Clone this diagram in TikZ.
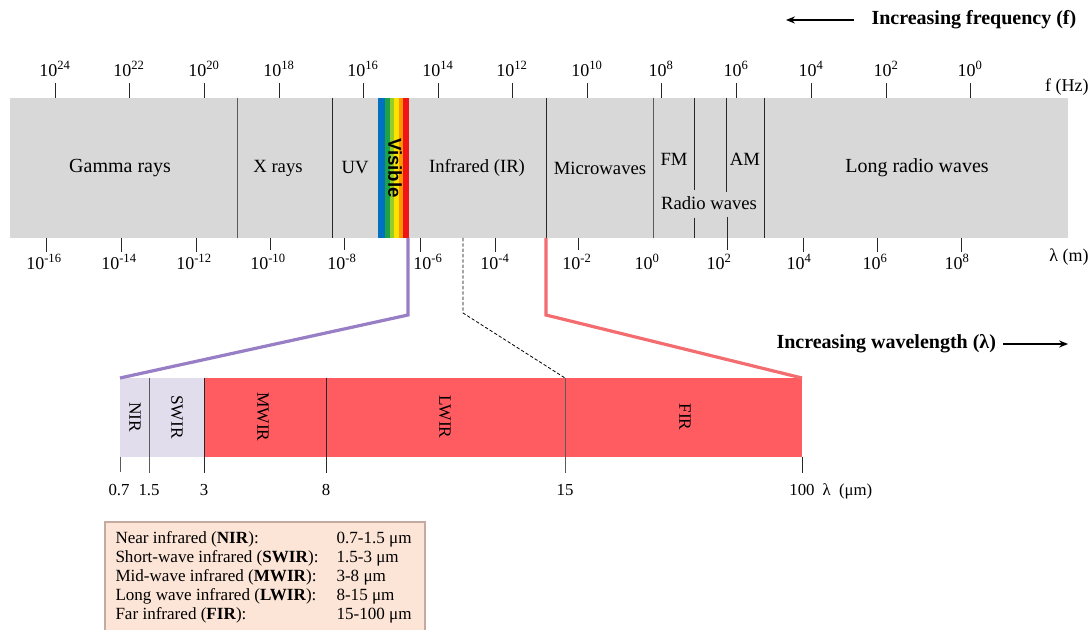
\documentclass[tikz,border=0pt]{standalone}
\usepackage{fontspec}
\setmainfont{Liberation Serif}
\newfontfamily\visfont{Liberation Sans}

\definecolor{bandgray}{RGB}{216,216,216}
\definecolor{irred}{RGB}{255,92,97}
\definecolor{nirlilac}{RGB}{226,221,236}
\definecolor{linkpurple}{RGB}{152,126,196}
\definecolor{linkred}{RGB}{242,108,112}
\definecolor{legendfill}{RGB}{252,229,214}
\definecolor{legendedge}{RGB}{196,170,160}
\definecolor{visblue}{RGB}{0,112,192}
\definecolor{visgreen}{RGB}{30,162,70}
\definecolor{vislime}{RGB}{150,205,40}
\definecolor{visyellow}{RGB}{252,226,0}
\definecolor{visorange}{RGB}{255,150,0}
\definecolor{visred}{RGB}{240,20,20}

\tikzset{every picture/.style={line width=0.75pt}}
\tikzset{
  bandlabel/.style={inner sep=0.75pt, font=\fontsize{14}{16}\selectfont},
  ticklabel/.style={inner sep=0.75pt, font=\fontsize{13.5}{16}\selectfont},
  sublabel/.style={inner sep=0.75pt, rotate=-90, font=\fontsize{13}{15}\selectfont},
  scalelabel/.style={inner sep=0.75pt, font=\fontsize{12.6}{15}\selectfont},
  legendtext/.style={inner sep=0.75pt, font=\fontsize{12.8}{15}\selectfont},
  headline/.style={inner sep=0.75pt, font=\fontsize{15}{18}\selectfont\bfseries},
  divider/.style={draw={rgb, 255:red, 40; green, 40; blue, 40 }, line width=0.75},
  zoomlink/.style={line width=2.4pt},
}

\begin{document}
\begin{tikzpicture}[x=0.75pt,y=0.75pt,yscale=-1,xscale=1]
		\useasboundingbox (0,0) rectangle (1092,630);
		
		%Shape: Rectangle [spectrum band]
		\fill [bandgray] (10,98) -- (1068,98) -- (1068,238) -- (10,238) -- cycle ;
		%Visible strip
		\fill [visblue] (378,98) rectangle (384.5,238) ;
		\fill [visgreen] (384.5,98) rectangle (390,238) ;
		\fill [vislime] (390,98) rectangle (394,238) ;
		\fill [visyellow] (394,98) rectangle (398.5,238) ;
		\fill [visorange] (398.5,98) rectangle (403,238) ;
		\fill [visred] (403,98) rectangle (409,238) ;
		
		%Dividers
		\draw [divider, draw={rgb, 255:red, 90; green, 90; blue, 90 }]   (237,98) -- (237,238) ;
		\draw [divider]   (332,98) -- (332,238) ;
		\draw [divider]   (546,98) -- (546,238) ;
		\draw [divider, draw={rgb, 255:red, 90; green, 90; blue, 90 }]   (653,98) -- (653,238) ;
		\draw [divider]   (694,98) -- (694,190) ;
		\draw [divider]   (694,218) -- (694,238) ;
		\draw [divider]   (726,98) -- (726,192) ;
		\draw [divider]   (727,217) -- (727,250) ;
		\draw [divider]   (764,98) -- (764,238) ;
		
		%Frequency ticks
		\draw [divider]   (55,83) -- (55,98) ;
		\draw [divider]   (129,83) -- (129,98) ;
		\draw [divider]   (204,83) -- (204,98) ;
		\draw [divider]   (279,83) -- (279,98) ;
		\draw [divider]   (363,83) -- (363,98) ;
		\draw [divider]   (438,83) -- (438,98) ;
		\draw [divider]   (512,83) -- (512,98) ;
		\draw [divider]   (587,83) -- (587,98) ;
		\draw [divider]   (661,83) -- (661,98) ;
		\draw [divider]   (736,83) -- (736,98) ;
		\draw [divider]   (811,83) -- (811,98) ;
		\draw [divider]   (886,83) -- (886,98) ;
		\draw [divider]   (970,83) -- (970,98) ;
		
		%Wavelength ticks
		\draw [divider]   (46,238) -- (46,252) ;
		\draw [divider]   (121,238) -- (121,252) ;
		\draw [divider]   (196,238) -- (196,252) ;
		\draw [divider]   (270,238) -- (270,250) ;
		\draw [divider]   (344,238) -- (344,250) ;
		\draw [divider]   (420,238) -- (420,252) ;
		\draw [divider]   (495,238) -- (495,252) ;
		\draw [divider]   (578,238) -- (578,250) ;
		\draw [divider]   (803,238) -- (803,252) ;
		\draw [divider]   (877,238) -- (877,252) ;
		\draw [divider]   (961,238) -- (961,252) ;
		
		%Frequency labels
		\draw (55,78) node [ticklabel, anchor=south] (f24) {10\textsuperscript{24}};
		\draw (129,78) node [ticklabel, anchor=south] (f22) {10\textsuperscript{22}};
		\draw (204,78) node [ticklabel, anchor=south] (f20) {10\textsuperscript{20}};
		\draw (279,78) node [ticklabel, anchor=south] (f18) {10\textsuperscript{18}};
		\draw (363,78) node [ticklabel, anchor=south] (f16) {10\textsuperscript{16}};
		\draw (438,78) node [ticklabel, anchor=south] (f14) {10\textsuperscript{14}};
		\draw (512,78) node [ticklabel, anchor=south] (f12) {10\textsuperscript{12}};
		\draw (587,78) node [ticklabel, anchor=south] (f10) {10\textsuperscript{10}};
		\draw (661,78) node [ticklabel, anchor=south] (f8) {10\textsuperscript{8}};
		\draw (736,78) node [ticklabel, anchor=south] (f6) {10\textsuperscript{6}};
		\draw (811,78) node [ticklabel, anchor=south] (f4) {10\textsuperscript{4}};
		\draw (886,78) node [ticklabel, anchor=south] (f2) {10\textsuperscript{2}};
		\draw (970,78) node [ticklabel, anchor=south] (f0) {10\textsuperscript{0}};
		\draw (1090,92) node [ticklabel, anchor=base east] (fhz) {f (Hz)};
		
		%Wavelength labels
		\draw (44,253) node [ticklabel, anchor=north] (w16) {10\textsuperscript{-16}};
		\draw (119,253) node [ticklabel, anchor=north] (w14) {10\textsuperscript{-14}};
		\draw (194,253) node [ticklabel, anchor=north] (w12) {10\textsuperscript{-12}};
		\draw (268,253) node [ticklabel, anchor=north] (w10) {10\textsuperscript{-10}};
		\draw (342,253) node [ticklabel, anchor=north] (w8) {10\textsuperscript{-8}};
		\draw (428,253) node [ticklabel, anchor=north] (w6) {10\textsuperscript{-6}};
		\draw (495,253) node [ticklabel, anchor=north] (w4) {10\textsuperscript{-4}};
		\draw (577,253) node [ticklabel, anchor=north] (w2) {10\textsuperscript{-2}};
		\draw (647,253) node [ticklabel, anchor=north] (w0) {10\textsuperscript{0}};
		\draw (719,253) node [ticklabel, anchor=north] (wp2) {10\textsuperscript{2}};
		\draw (799,253) node [ticklabel, anchor=north] (wp4) {10\textsuperscript{4}};
		\draw (875,253) node [ticklabel, anchor=north] (wp6) {10\textsuperscript{6}};
		\draw (957,253) node [ticklabel, anchor=north] (wp8) {10\textsuperscript{8}};
		\draw (1090,262) node [ticklabel, anchor=base east] (wm) {λ (m)};
		
		%Band names
		\draw (120,168) node [bandlabel, font=\fontsize{15}{17}\selectfont] (gamma) {Gamma rays};
		\draw (278,168) node [bandlabel] (xray) {X rays};
		\draw (355,168) node [bandlabel] (uv) {UV};
		\draw (395,168) node [bandlabel, rotate=-90, font=\fontsize{14}{16}\selectfont\visfont\bfseries] (visible) {Visible};
		\draw (477,168) node [bandlabel] (ir) {Infrared (IR)};
		\draw (600,168) node [bandlabel] (micro) {Microwaves};
		\draw (674,159) node [bandlabel] (fm) {FM};
		\draw (745,159) node [bandlabel] (am) {AM};
		\draw (709,203) node [bandlabel] (radio) {Radio waves};
		\draw (917,168) node [bandlabel, font=\fontsize{15}{17}\selectfont] (longradio) {Long radio waves};
		
		%Frequency / wavelength arrows
		\coordinate (ftail) at (854,20) ;
		\coordinate (fhead) at (786,20) ;
		\draw [line width=0.9]   (ftail) -- (789,20) ;
		\draw [shift={(fhead)}, rotate = 0] [fill={rgb, 255:red, 0; green, 0; blue, 0 }  ][line width=0.08]  [draw opacity=0] (9,-3.6) -- (0,0) -- (9,3.6) -- (6,0) -- cycle    ;
		\draw (870,20) node [headline, anchor=west] (freqtitle) {Increasing frequency (f)};
		\coordinate (wtail) at (1003,344) ;
		\coordinate (whead) at (1068,344) ;
		\draw [line width=0.9]   (wtail) -- (1065,344) ;
		\draw [shift={(whead)}, rotate = 180] [fill={rgb, 255:red, 0; green, 0; blue, 0 }  ][line width=0.08]  [draw opacity=0] (9,-3.6) -- (0,0) -- (9,3.6) -- (6,0) -- cycle    ;
		\draw (775,344) node [headline, anchor=west] (wavetitle) {Increasing wavelength (λ)};
		
		%Infrared zoom band
		\fill [nirlilac] (120,378) rectangle (204,457) ;
		\fill [irred] (204,378) rectangle (802,457) ;
		\draw [divider, draw={rgb, 255:red, 90; green, 90; blue, 90 }]   (120,457) -- (120,472) ;
		\draw [divider, draw={rgb, 255:red, 90; green, 90; blue, 90 }]   (149,378) -- (149,473) ;
		\draw [divider]   (204,378) -- (204,473) ;
		\draw [divider]   (326,378) -- (326,473) ;
		\draw [divider, draw={rgb, 255:red, 90; green, 90; blue, 90 }]   (565,378) -- (565,473) ;
		\draw [divider]   (802,457) -- (802,473) ;
		
		\draw (135,417) node [sublabel] (nir) {NIR};
		\draw (177,417) node [sublabel] (swir) {SWIR};
		\draw (263,417) node [sublabel] (mwir) {MWIR};
		\draw (445,417) node [sublabel] (lwir) {LWIR};
		\draw (685,417) node [sublabel] (fir) {FIR};
		
		\draw (119,495) node [scalelabel, anchor=base] (l07) {0.7};
		\draw (149,495) node [scalelabel, anchor=base] (l15) {1.5};
		\draw (204,495) node [scalelabel, anchor=base] (l3) {3};
		\draw (326,495) node [scalelabel, anchor=base] (l8) {8};
		\draw (565,495) node [scalelabel, anchor=base] (l15b) {15};
		\draw (802,495) node [scalelabel, anchor=base] (l100) {100};
		\draw (821,495) node [scalelabel, anchor=base west] (lunit) {λ~ (μm)};
		
		%Zoom links
		\coordinate (visend) at (408,238) ;
		\coordinate (nirtop) at (120,378) ;
		\coordinate (irmid) at (463,238) ;
		\coordinate (lwirtop) at (565,378) ;
		\coordinate (irend) at (546,238) ;
		\coordinate (firtop) at (802,378) ;
		\draw [zoomlink, draw=linkpurple, line join=miter]   (visend) -- ++(0,77) -- (nirtop) ;
		\draw [dashed, dash pattern=on 2.5pt off 1.5pt, line width=0.6]   (irmid) -- ++(0,75) -- (lwirtop) ;
		\draw [zoomlink, draw=linkred, line join=miter]   (irend) -- ++(0,77) -- (firtop) ;
		
		%Legend
		\fill [legendfill] (105,522) rectangle (425,630) ;
		\draw [draw=legendedge, line width=0.9]   (105,630) -- (105,522) -- (425,522) -- (425,630) ;
		\draw (114,543) node [legendtext, anchor=base west] (lgnir) {Near infrared (\textbf{NIR}):};
		\draw (114,562) node [legendtext, anchor=base west] (lgswir) {Short-wave infrared (\textbf{SWIR}):};
		\draw (114,581) node [legendtext, anchor=base west] (lgmwir) {Mid-wave infrared (\textbf{MWIR}):};
		\draw (114,600) node [legendtext, anchor=base west] (lglwir) {Long wave infrared (\textbf{LWIR}):};
		\draw (114,619) node [legendtext, anchor=base west] (lgfir) {Far infrared (\textbf{FIR}):};
		\draw (335,543) node [legendtext, anchor=base west] (rgnir) {0.7-1.5 μm};
		\draw (335,562) node [legendtext, anchor=base west] (rgswir) {1.5-3 μm};
		\draw (335,581) node [legendtext, anchor=base west] (rgmwir) {3-8 μm};
		\draw (335,600) node [legendtext, anchor=base west] (rglwir) {8-15 μm};
		\draw (335,619) node [legendtext, anchor=base west] (rgfir) {15-100 μm};
		
	\end{tikzpicture}
\end{document}
